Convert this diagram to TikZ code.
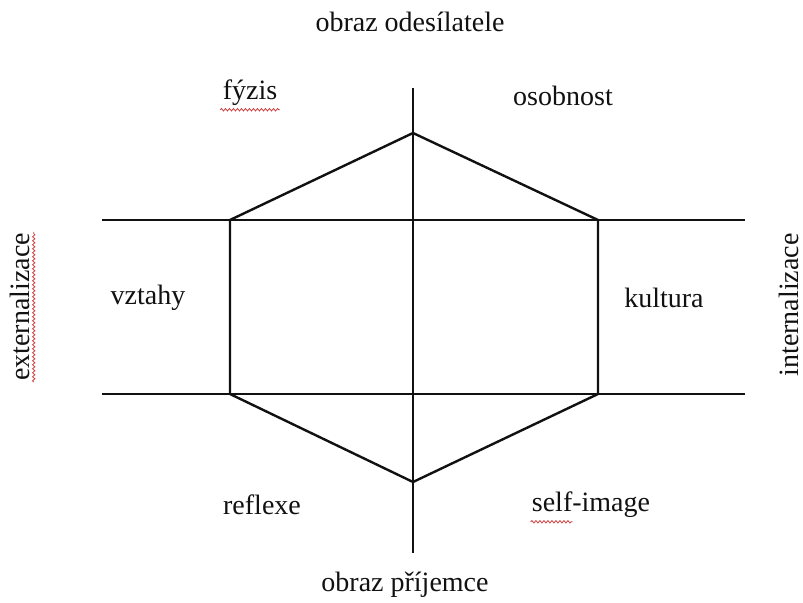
\documentclass[tikz,border=0pt]{standalone}
\usepackage{fontspec}
\setmainfont{Liberation Serif}
\usepackage{xcolor}
\usetikzlibrary{decorations.pathmorphing}
\definecolor{Ink}{HTML}{111111}
\definecolor{SpellRed}{HTML}{D04040}
\tikzset{
  every picture/.style={line width=1.8pt},
  axisline/.style={draw=Ink},
  hexline/.style={draw=Ink, line join=miter},
  wordlabel/.style={font=\fontsize{21}{25}\selectfont, inner sep=0pt, text=Ink},
  sidelabel/.style={wordlabel, rotate=90},
  spellmark/.style={draw=SpellRed, line width=0.6pt,
    decorate, decoration={snake, amplitude=0.9pt, segment length=3pt}}
}

\begin{document}
\begin{tikzpicture}[x=0.75pt, y=-0.75pt]
  \useasboundingbox (0,0) rectangle (803,603);

  % axes
  \coordinate (vtop) at (413,88);
  \coordinate (vbot) at (413,553);
  \coordinate (hUl) at (102,220);
  \coordinate (hUr) at (745,220);
  \coordinate (hLl) at (102,394);
  \coordinate (hLr) at (745,394);
  \draw[axisline] (vtop) -- (vbot);
  \draw[axisline] (hUl) -- (hUr);
  \draw[axisline] (hLl) -- (hLr);

  % hexagon
  \coordinate (top) at (413,133);
  \coordinate (ur) at (598,220);
  \coordinate (lr) at (598,394);
  \coordinate (bot) at (413,482);
  \coordinate (ll) at (230,394);
  \coordinate (ul) at (230,220);
  \draw[hexline] (top) -- (ur) -- (lr) -- (bot) -- (ll) -- (ul) -- cycle;

  % labels
  \node[wordlabel] (sender) at (410,22) {obraz odesílatele};
  \node[wordlabel] (receiver) at (405,585) {obraz příjemce};
  \node[wordlabel] (fyzis) at (250,93) {fýzis};
  \node[wordlabel] (osobnost) at (563,96) {osobnost};
  \node[wordlabel] (vztahy) at (148,298) {vztahy};
  \node[wordlabel] (kultura) at (664,298) {kultura};
  \node[wordlabel] (reflexe) at (262,505) {reflexe};
  \node[wordlabel] (selfimage) at (591,505) {self-image};
  \node[sidelabel] (extern) at (20,307) {externalizace};
  \node[sidelabel] (intern) at (789,305) {internalizace};

  % spell-check marks
  \draw[spellmark] ([xshift=-1pt,yshift=-2pt]fyzis.south west) -- ([xshift=1pt,yshift=-2pt]fyzis.south east);
  \draw[spellmark] ([yshift=-2pt]selfimage.south west) -- ++(42,0);
  \draw[spellmark] ([xshift=2pt]extern.south west) -- ([xshift=2pt]extern.south east);
\end{tikzpicture}
\end{document}
